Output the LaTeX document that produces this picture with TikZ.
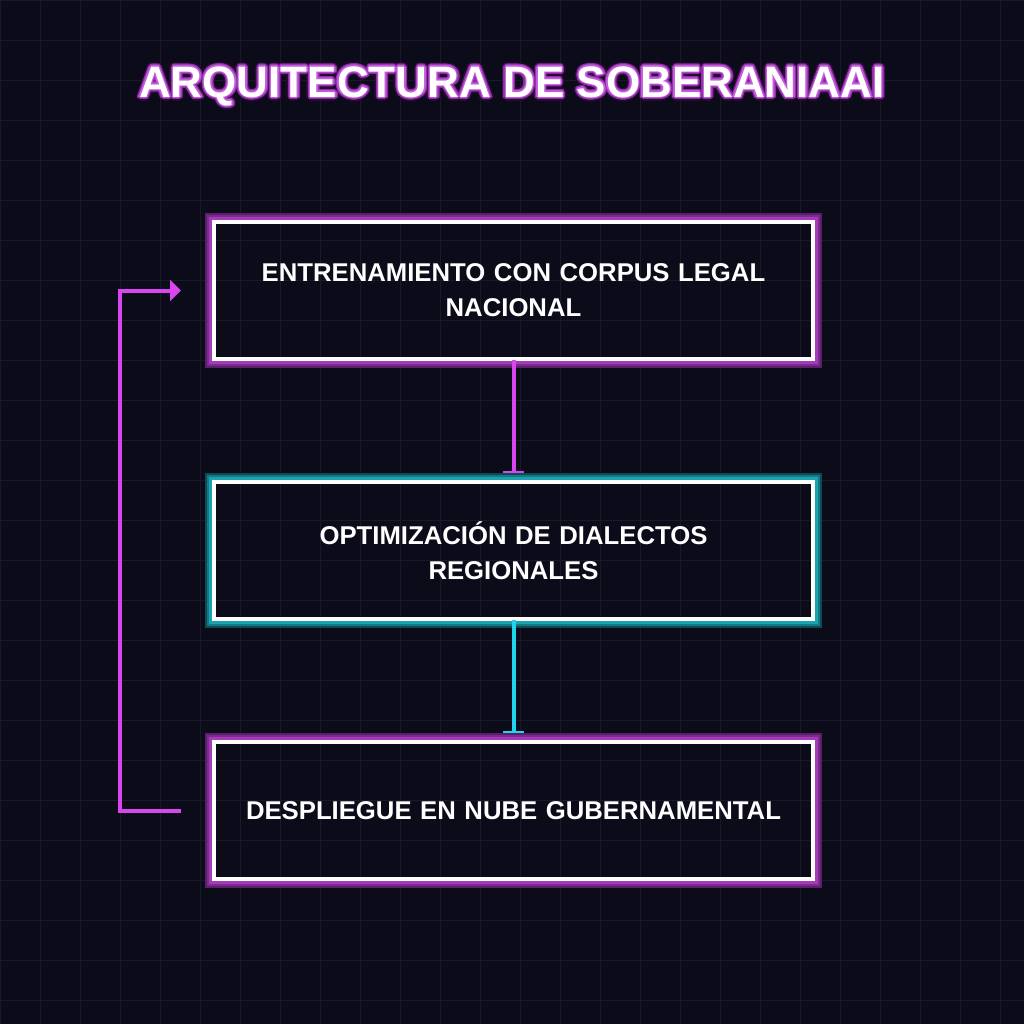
\documentclass[tikz,border=0pt]{standalone}
\usepackage{fontspec}
\setmainfont{Liberation Sans}
\usetikzlibrary{arrows.meta,calc}
\definecolor{bg}{HTML}{0B0B1A}
\definecolor{gridc}{HTML}{191929}
\definecolor{mag}{HTML}{D946EF}
\definecolor{cyn}{HTML}{22D3EE}
\definecolor{pA}{HTML}{5A1E6A}
\definecolor{pB}{HTML}{7C2A8E}
\definecolor{pC}{HTML}{A43CB9}
\definecolor{tA}{HTML}{0E4A52}
\definecolor{tB}{HTML}{137A84}
\definecolor{tC}{HTML}{1AA3B0}
\definecolor{ttlA}{HTML}{2A0A36}
\definecolor{ttlB}{HTML}{8E2FA6}
\definecolor{ttlC}{HTML}{C45ADC}
\tikzset{
  stepbox/.style={draw=white, line width=4pt, outer sep=0pt, minimum width=599pt, minimum height=137pt,
    text width=560pt, align=center, text=white, font=\fontsize{25.7pt}{35pt}\selectfont\bfseries},
  magline/.style={draw=mag, line width=4pt},
  cynline/.style={draw=cyn, line width=4pt},
  bartip/.style={-{Bar[width=21pt,line width=2pt]}, shorten >=9pt},
  ttl/.style={font=\fontsize{44pt}{50pt}\selectfont\bfseries, inner sep=0pt}
}
\newcommand{\glowbox}[4]{%
  \draw[#2, line width=7pt] ($(#1.north west)+(-5.5,-5.5)$) rectangle ($(#1.south east)+(5.5,5.5)$);
  \draw[#3, line width=5pt] ($(#1.north west)+(-4.5,-4.5)$) rectangle ($(#1.south east)+(4.5,4.5)$);
  \draw[#4, line width=3pt] ($(#1.north west)+(-3.5,-3.5)$) rectangle ($(#1.south east)+(3.5,3.5)$);
}
\begin{document}
\begin{tikzpicture}[x=1pt,y=-1pt]
\fill[bg] (0,0) rectangle (1024,1024);
\useasboundingbox (0,0) rectangle (1024,1024);
\foreach \i in {0,40,...,1000} {
  \draw[gridc, line width=1pt] (\i+0.5,0) -- (\i+0.5,1024);
  \draw[gridc, line width=1pt] (0,\i+0.5) -- (1024,\i+0.5);
}
% title glow
\foreach \a in {0,22.5,...,337.5} {
  \node[ttl, text=ttlA] at ($(512,86)+(\a:4)$) {ARQUITECTURA DE SOBERANIAAI};
}
\foreach \a in {0,22.5,...,337.5} {
  \node[ttl, text=ttlB] at ($(512,86)+(\a:2.6)$) {ARQUITECTURA DE SOBERANIAAI};
}
\foreach \a in {0,45,...,315} {
  \node[ttl, text=ttlC] at ($(512,86)+(\a:1.3)$) {ARQUITECTURA DE SOBERANIAAI};
}
\node[ttl, text=white] (title) at (512,86) {ARQUITECTURA DE SOBERANIAAI};
% boxes
\node[stepbox] (b1) at (513.5,290.5) {ENTRENAMIENTO CON CORPUS LEGAL\\NACIONAL};
\node[stepbox] (b2) at (513.5,550.5) {OPTIMIZACIÓN DE DIALECTOS\\REGIONALES};
\node[stepbox] (b3) at (513.5,810.5) {DESPLIEGUE EN NUBE GUBERNAMENTAL};
\glowbox{b1}{pA}{pB}{pC}
\glowbox{b2}{tA}{tB}{tC}
\glowbox{b3}{pA}{pB}{pC}
% connectors
\draw[magline, bartip] ([yshift=-1pt]b1.south) -- (b2.north);
\draw[cynline, bartip] ([yshift=-1pt]b2.south) -- (b3.north);
\coordinate (fbs) at ($(b3.west)+(-33,0)$);
\coordinate (fbe) at ($(b1.west)+(-33,0)$);
\draw[magline, -{Triangle[length=11pt,width=21pt]}] (fbs) -- ++(-61,0) |- (fbe);
\end{tikzpicture}
\end{document}
